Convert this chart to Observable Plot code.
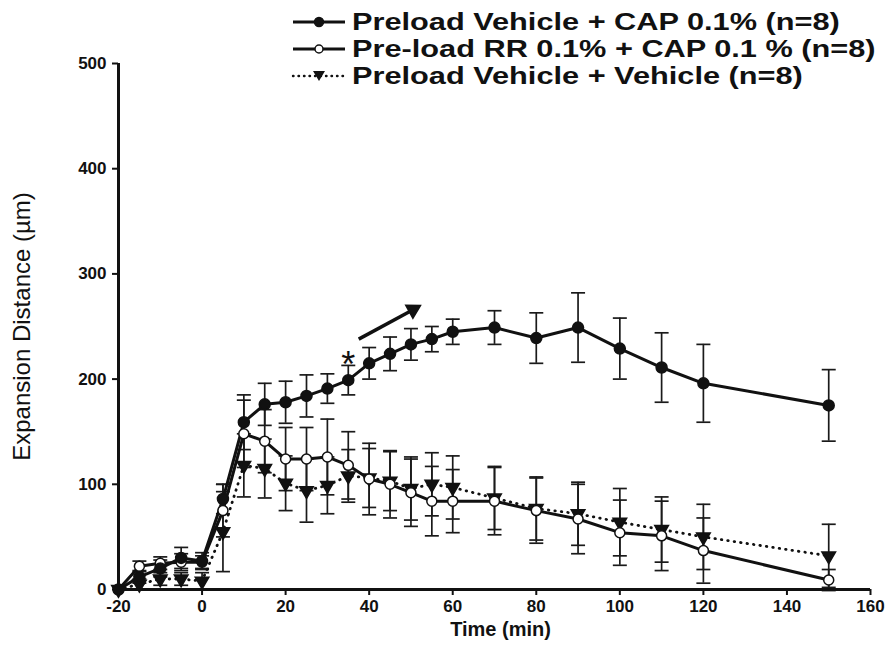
<!DOCTYPE html>
<html>
<head>
<meta charset="utf-8">
<script src="https://cdn.jsdelivr.net/npm/d3@7"></script>
<script src="https://cdn.jsdelivr.net/npm/@observablehq/plot@0.6"></script>
<style>
  html, body { margin: 0; padding: 0; background: #fff; }
  #wrap { position: relative; width: 887px; height: 657px; font-family: "Liberation Sans", Arial, sans-serif; }
  #legend { position: absolute; left: 0; top: 0; width: 887px; height: 100px; pointer-events: none; }
  .row { position: absolute; left: 291px; display: flex; align-items: center; height: 24px; }
  .row span { display: inline-block; font-weight: bold; font-size: 24px; line-height: 1; color: #111; margin-left: 5px; white-space: nowrap; transform: scaleX(1.28); transform-origin: left center; }
</style>
</head>
<body>
<div id="wrap"><div id="legend"></div></div>
<script>
// ---- data ----
const time    = [-20,-15,-10,-5,0,5,10,15,20,25,30,35,40,45,50,55,60,70,80,90,100,110,120,150];
const cap     = [0,12,20,30,27,86,159,176,178,184,191,199,215,224,233,238,245,249,239,249,229,211,196,175];
const capErr  = [0,6,8,10,8,14,26,20,20,20,14,14,15,16,15,12,12,16,24,33,29,33,37,34];
const rr      = [0,22,25,26,26,75,148,141,124,124,126,118,105,100,92,84,84,84,75,67,54,51,37,9];
const rrErr   = [0,5,6,8,6,25,32,30,30,30,36,32,34,32,32,33,30,32,31,33,31,33,31,10];
const veh     = [0,5,10,10,8,55,118,115,101,94,99,108,106,103,96,100,97,87,77,72,64,57,50,32];
const vehErr  = [0,5,6,6,8,38,30,28,26,30,27,25,28,28,30,30,30,30,30,30,32,31,31,30];
const seriesNames = [
  "Preload Vehicle + CAP 0.1% (n=8)",
  "Pre-load RR 0.1% + CAP 0.1 % (n=8)",
  "Preload Vehicle + Vehicle (n=8)"
];
const xTicks = [-20,0,20,40,60,80,100,120,140,160];
const yTicks = [0,100,200,300,400,500];
const asterisk = [{t: 35, v: 213, label: "*"}];
const arrowData = [{t1: 37.5, v1: 238, t2: 50.5, v2: 266}];

const mk = (vals, errs) => time.map((t, i) => ({t, v: vals[i], e: errs[i]}));
const dCap = mk(cap, capErr), dRR = mk(rr, rrErr), dVeh = mk(veh, vehErr);

const capSym = { draw(ctx, size) { const w = Math.sqrt(size / Math.PI); ctx.moveTo(-w, 0); ctx.lineTo(w, 0); } };

function errMarks(d) {
  const f = d.filter(p => p.e > 0);
  return [
    Plot.ruleX(f, {x: "t", y1: p => p.v - p.e, y2: p => p.v + p.e, stroke: "#1a1a1a", strokeWidth: 1.7}),
    Plot.dot(f, {x: "t", y: p => p.v + p.e, symbol: capSym, r: 7, stroke: "#1a1a1a", strokeWidth: 1.7, fill: "none"}),
    Plot.dot(f, {x: "t", y: p => p.v - p.e, symbol: capSym, r: 7, stroke: "#1a1a1a", strokeWidth: 1.7, fill: "none"})
  ];
}

const font = "Liberation Sans, Arial, sans-serif";

const chart = Plot.plot({
  width: 887,
  height: 657,
  marginLeft: 118,
  marginRight: 17,
  marginTop: 63,
  marginBottom: 68,
  style: {fontFamily: font, background: "#fff", color: "#111"},
  x: {domain: [-20, 160]},
  y: {domain: [0, 500]},
  marks: [
    Plot.axisX({ticks: xTicks, tickFormat: d => String(d), tickSize: 6, tickPadding: 4, fontSize: 17, fontWeight: "bold", strokeWidth: 2, label: null}),
    Plot.axisY({ticks: yTicks, tickFormat: d => String(d), tickSize: 6, tickPadding: 6, fontSize: 17, fontWeight: "bold", strokeWidth: 2, label: null}),
    Plot.text(["Expansion Distance (µm)"], {frameAnchor: "left", textAnchor: "middle", dx: -96, rotate: -90, fontSize: 24, fill: "#111"}),
    Plot.text(["Time (min)"], {frameAnchor: "bottom", dx: 6, dy: 40, lineAnchor: "middle", fontSize: 20, fontWeight: "bold", fill: "#111"}),
    ...errMarks(dVeh),
    ...errMarks(dRR),
    ...errMarks(dCap),
    Plot.line(dVeh, {x: "t", y: "v", stroke: "#111", strokeWidth: 2.8, strokeDasharray: "0.5,6", strokeLinecap: "round"}),
    Plot.line(dRR, {x: "t", y: "v", stroke: "#111", strokeWidth: 3}),
    Plot.line(dCap, {x: "t", y: "v", stroke: "#111", strokeWidth: 3}),
    Plot.dot(dVeh, {x: "t", y: "v", symbol: "triangle2", rotate: 180, r: 6.5, fill: "#111", stroke: "#111"}),
    Plot.dot(dRR, {x: "t", y: "v", r: 5, fill: "#fff", stroke: "#111", strokeWidth: 1.5}),
    Plot.dot(dCap, {x: "t", y: "v", r: 5.5, fill: "#111", stroke: "#111"}),
    Plot.ruleX([-20], {stroke: "#111", strokeWidth: 3}),
    Plot.ruleY([0], {stroke: "#111", strokeWidth: 3}),
    Plot.text(asterisk, {x: "t", y: "v", text: "label", fontSize: 36, fill: "#111"}),
    Plot.link(arrowData, {x1: "t1", y1: "v1", x2: "t2", y2: "v2", stroke: "#111", strokeWidth: 3.5}),
    Plot.dot(arrowData, {x: "t2", y: "v2", symbol: "triangle2", rotate: 61, r: 7, fill: "#111", stroke: "#111"})
  ]
});
document.getElementById("wrap").prepend(chart);

// ---- legend ----
const legend = document.getElementById("legend");
const rowsY = [10, 37, 64];
const ns = "http://www.w3.org/2000/svg";
seriesNames.forEach((name, i) => {
  const row = document.createElement("div");
  row.className = "row";
  row.style.top = rowsY[i] + "px";
  const s = document.createElementNS(ns, "svg");
  s.setAttribute("width", 56); s.setAttribute("height", 20);
  const line = document.createElementNS(ns, "line");
  line.setAttribute("x1", 2); line.setAttribute("x2", 54); line.setAttribute("y1", 10); line.setAttribute("y2", 10);
  line.setAttribute("stroke", "#111"); line.setAttribute("stroke-width", i === 2 ? 2.4 : 3);
  if (i === 2) { line.setAttribute("stroke-dasharray", "0.5,5"); line.setAttribute("stroke-linecap", "round"); }
  s.appendChild(line);
  if (i === 2) {
    const p = document.createElementNS(ns, "path");
    p.setAttribute("d", "M22,5 L34,5 L28,15 Z"); p.setAttribute("fill", "#111");
    s.appendChild(p);
  } else {
    const c = document.createElementNS(ns, "circle");
    c.setAttribute("cx", 28); c.setAttribute("cy", 10); c.setAttribute("r", i === 0 ? 4.5 : 4);
    c.setAttribute("fill", i === 0 ? "#111" : "#fff"); c.setAttribute("stroke", "#111"); c.setAttribute("stroke-width", 1.5);
    s.appendChild(c);
  }
  row.appendChild(s);
  const sp = document.createElement("span");
  sp.textContent = name;
  row.appendChild(sp);
  legend.appendChild(row);
});
</script>
</body>
</html>
